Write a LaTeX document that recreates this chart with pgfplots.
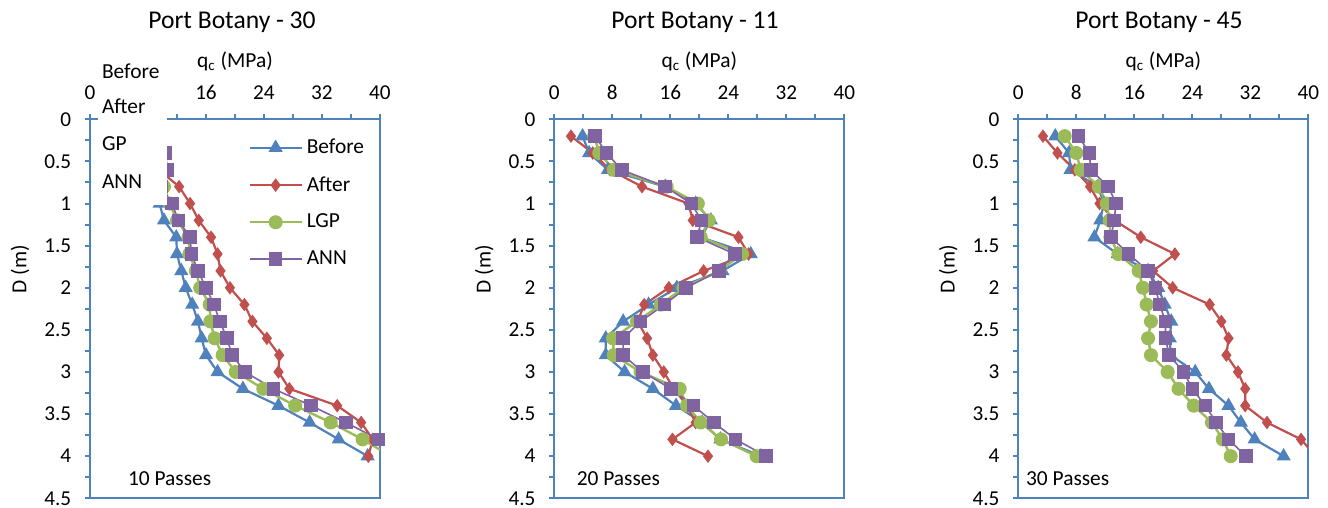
\documentclass[border=0pt]{standalone}
\usepackage{pgfplots}
\usepackage{pgfplotstable}
\pgfplotsset{compat=1.18}
\usepackage{fontspec}
\setmainfont{Carlito}
\definecolor{axcol}{HTML}{4F81BD}
\definecolor{cBefore}{HTML}{4F81BD}
\definecolor{cAfter}{HTML}{C0504D}
\definecolor{cLGP}{HTML}{9BBB59}
\definecolor{cANN}{HTML}{8064A2}

\pgfplotstableread{
d before after lgp ann
0.2 5.0 6.0 9.0 9.5
0.4 6.0 7.5 9.5 10.4
0.6 7.0 9.5 10.0 10.7
0.8 8.0 12.3 10.2 9.8
1.0 9.6 13.8 11.0 11.3
1.2 10.2 15.0 12.0 12.2
1.4 11.9 16.7 13.6 13.8
1.6 12.0 17.6 13.7 14.0
1.8 12.6 18.0 14.6 14.9
2.0 13.2 19.3 15.2 16.0
2.2 14.1 21.3 16.5 17.1
2.4 14.9 22.4 16.6 17.9
2.6 15.4 24.4 17.2 18.9
2.8 16.0 26.1 18.3 19.6
3.0 17.6 26.0 20.1 21.4
3.2 21.1 27.5 23.9 25.3
3.4 26.0 34.1 28.3 30.5
3.6 30.3 37.4 33.2 35.3
3.8 34.3 39.0 37.6 39.8
4.0 38.3 38.4 41.5 43.0
}\tA

\pgfplotstableread{
d before after lgp ann
0.2 3.9 2.3 5.5 5.6
0.4 4.8 5.3 6.2 7.2
0.6 7.4 7.7 8.2 9.3
0.8 15.3 12.1 15.5 15.3
1.0 19.5 18.5 19.8 18.9
1.2 21.6 19.1 21.3 20.3
1.4 20.2 25.4 20.2 19.7
1.6 27.1 26.8 25.9 24.9
1.8 23.2 20.6 22.8 22.7
2.0 16.9 15.8 17.8 18.2
2.2 13.0 12.4 14.7 15.2
2.4 9.5 11.5 11.4 11.9
2.6 7.1 12.8 8.1 9.5
2.8 7.1 13.6 8.2 9.5
3.0 9.7 15.1 11.9 12.2
3.2 13.6 16.5 17.3 16.1
3.4 16.8 18.3 18.3 19.2
3.6 20.4 19.5 20.2 22.0
3.8 22.9 16.3 23.0 25.0
4.0 28.5 21.2 27.9 29.2
}\tB

\pgfplotstableread{
d before after lgp ann
0.2 5.1 3.4 6.4 8.3
0.4 7.0 5.4 8.0 9.8
0.6 7.2 7.8 8.6 10.0
0.8 11.0 9.9 11.1 12.4
1.0 11.8 11.2 12.2 13.5
1.2 11.3 13.3 12.6 13.2
1.4 10.5 16.9 12.7 12.8
1.6 13.7 21.6 13.8 15.2
1.8 17.9 18.6 16.6 17.9
2.0 19.3 21.3 17.2 18.9
2.2 20.2 26.4 17.7 19.5
2.4 21.1 28.0 18.3 20.3
2.6 20.9 29.0 17.9 20.3
2.8 21.0 28.7 18.3 20.8
3.0 24.4 30.3 20.6 22.8
3.2 26.3 31.3 22.1 24.0
3.4 29.0 31.3 24.2 25.8
3.6 30.7 34.3 26.7 27.3
3.8 32.6 39.0 28.2 29.0
4.0 36.6 41.0 29.3 31.4
}\tC

\pgfplotsset{
  pb/.style={
    scale only axis, width=145pt, height=189.5pt,
    xmin=0, xmax=40, ymin=0, ymax=4.5, y dir=reverse,
    xtick={0,8,16,24,32,40}, ytick={0,0.5,1,1.5,2,2.5,3,3.5,4,4.5},
    minor x tick num=1, minor y tick num=1,
    xtick pos=right, xticklabel pos=right, ytick pos=left,
    tick align=outside, major tick length=2.5pt, minor tick length=2.5pt,
    axis line style={axcol, line width=1pt},
    tick style={axcol, line width=1pt},
    minor tick style={axcol, line width=1pt},
    /pgf/number format/assume math mode=true,
    ticklabel style={font=\fontsize{10.6}{12}\selectfont, text=black},
    xticklabel style={yshift=4pt},
    yticklabel style={xshift=-3.4pt},
    xlabel={q\textsubscript{c} (MPa)},
    ylabel={D (m)},
    label style={font=\fontsize{10.7}{12}\selectfont},
    xlabel style={at={(axis description cs:0.5,1)}, anchor=center, yshift=29pt},
    ylabel style={at={(axis description cs:-0.2414,0.605)}, anchor=center},
  },
  sBefore/.style={cBefore, line width=1.1pt, mark=triangle*, mark size=3pt, mark options={solid, fill=cBefore}},
  sAfter/.style={cAfter, line width=1.1pt, mark=diamond*, mark size=2.5pt, mark options={solid, fill=cAfter}},
  sLGP/.style={cLGP, line width=1.2pt, mark=*, mark size=2.9pt, mark options={solid, fill=cLGP}},
  sANN/.style={cANN, line width=0.8pt, mark=square*, mark size=3pt, mark options={solid, fill=cANN}},
}

\begin{document}
\begin{tikzpicture}
\useasboundingbox (0,0) rectangle (664pt,254pt);

% Panel 1
\begin{axis}[pb, at={(45pt,4.85pt)}, anchor=south west,
  legend style={draw=none, fill=none, at={(0.545,0.96)}, anchor=north west,
    font=\fontsize{10.7}{12}\selectfont, row sep=5.9pt, inner sep=0pt, cells={anchor=west}},
  legend image code/.code={\draw[mark repeat=2,mark phase=2,#1] plot coordinates {(0pt,0pt) (13pt,0pt) (26pt,0pt)};},
  ]
\addplot[sBefore] table[x=before,y=d]{\tA};
\addlegendentry{Before}
\addplot[sAfter] table[x=after,y=d]{\tA};
\addlegendentry{After}
\addplot[sLGP] table[x=lgp,y=d]{\tA};
\addlegendentry{LGP}
\addplot[sANN] table[x=ann,y=d]{\tA};
\addlegendentry{ANN}
\node[anchor=base west, font=\fontsize{10.7}{12}\selectfont] at (axis cs:4.28,4.343) {10 Passes};
\end{axis}

% Panel 2
\begin{axis}[pb, at={(277.15pt,4.85pt)}, anchor=south west]
\addplot[sBefore] table[x=before,y=d]{\tB};
\addplot[sAfter] table[x=after,y=d]{\tB};
\addplot[sLGP] table[x=lgp,y=d]{\tB};
\addplot[sANN] table[x=ann,y=d]{\tB};
\node[anchor=base west, font=\fontsize{10.7}{12}\selectfont] at (axis cs:2.13,4.343) {20 Passes};
\end{axis}

% Panel 3
\begin{axis}[pb, at={(509.15pt,4.85pt)}, anchor=south west]
\addplot[sBefore] table[x=before,y=d]{\tC};
\addplot[sAfter] table[x=after,y=d]{\tC};
\addplot[sLGP] table[x=lgp,y=d]{\tC};
\addplot[sANN] table[x=ann,y=d]{\tC};
\node[anchor=base west, font=\fontsize{10.7}{12}\selectfont] at (axis cs:0.1,4.343) {30 Passes};
\end{axis}

% titles
\node[anchor=base, font=\fontsize{12.8}{15}\selectfont] at (116pt,239.9pt) {Port Botany - 30};
\node[anchor=base, font=\fontsize{12.8}{15}\selectfont] at (347.5pt,239.9pt) {Port Botany - 11};
\node[anchor=base, font=\fontsize{12.8}{15}\selectfont] at (579.5pt,239.9pt) {Port Botany - 45};

% leftover legend box in panel 1
\fill[white] (49pt,151.5pt) rectangle (83.5pt,225pt);
\begin{scope}[every node/.style={anchor=base west, inner sep=0pt, font=\fontsize{10.7}{12}\selectfont}]
\node at (50.85pt,214.8pt) {Before};
\node at (50.85pt,197pt) {After};
\node at (50.85pt,178.5pt) {GP};
\node at (50.85pt,159.8pt) {ANN};
\end{scope}
\end{tikzpicture}
\end{document}
